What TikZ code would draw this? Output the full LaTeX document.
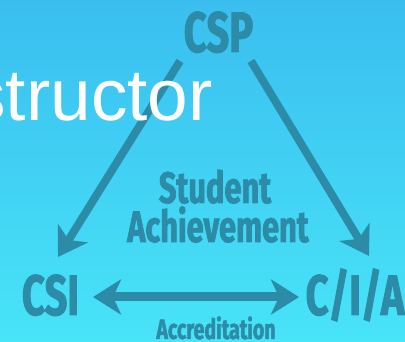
\documentclass[tikz,border=0pt]{standalone}
\usepackage{fontspec}
\setmainfont{Liberation Sans}
\newfontfamily\condfont[FakeStretch=0.70,FakeBold=1.6]{Fira Sans}
\usetikzlibrary{arrows.meta}
\definecolor{tealtext}{RGB}{44,140,168}
\definecolor{bgtop}{RGB}{58,190,239}
\definecolor{bgbot}{RGB}{72,228,248}
\begin{document}
\begin{tikzpicture}[x=1pt,y=-1pt,
  bigl/.style={inner sep=0pt, anchor=base, text=tealtext,
    font=\condfont\bfseries\fontsize{57}{57}\selectfont},
  midl/.style={inner sep=0pt, anchor=base, text=tealtext,
    font=\condfont\bfseries\fontsize{44}{44}\selectfont},
  smalll/.style={inner sep=0pt, anchor=base, text=tealtext,
    font=\condfont\bfseries\fontsize{28}{28}\selectfont},
  headtip/.tip={Stealth[length=28pt,width=35pt,inset=8pt]},
  diagarrow/.style={draw=tealtext, fill=tealtext, line width=8pt, -headtip},
  horarrow/.style={draw=tealtext, fill=tealtext, line width=9pt, headtip-headtip}]
\useasboundingbox (0,0) rectangle (405,342);
\clip (0,0) rectangle (405,342);
\shade[top color=bgtop, bottom color=bgbot] (0,0) rectangle (405,342);

\node[bigl] (csp) at (218.5,52) {CSP};
\node[bigl] (csi) at (50.5,315) {CSI};
\node[bigl] (cia) at (355,315) {C/I/A};
\node[midl] (student) at (215,203) {Student};
\node[midl] (achieve) at (218,242) {Achievement};
\node[smalll] (accr) at (216,339) {Accreditation};

\coordinate (ls) at (180,61);
\coordinate (le) at (58,257);
\coordinate (rs) at (251,61);
\coordinate (re) at (369,256);
\coordinate (hl) at (93,297);
\coordinate (hr) at (299,297);

\draw[diagarrow] (ls) -- (le);
\draw[diagarrow] (rs) -- (re);
\draw[horarrow] (hl) -- (hr);

\node[anchor=base east, inner sep=0pt, text=white, font=\fontsize{73}{73}\selectfont] (title) at (213,121) {structor};
\end{tikzpicture}
\end{document}
